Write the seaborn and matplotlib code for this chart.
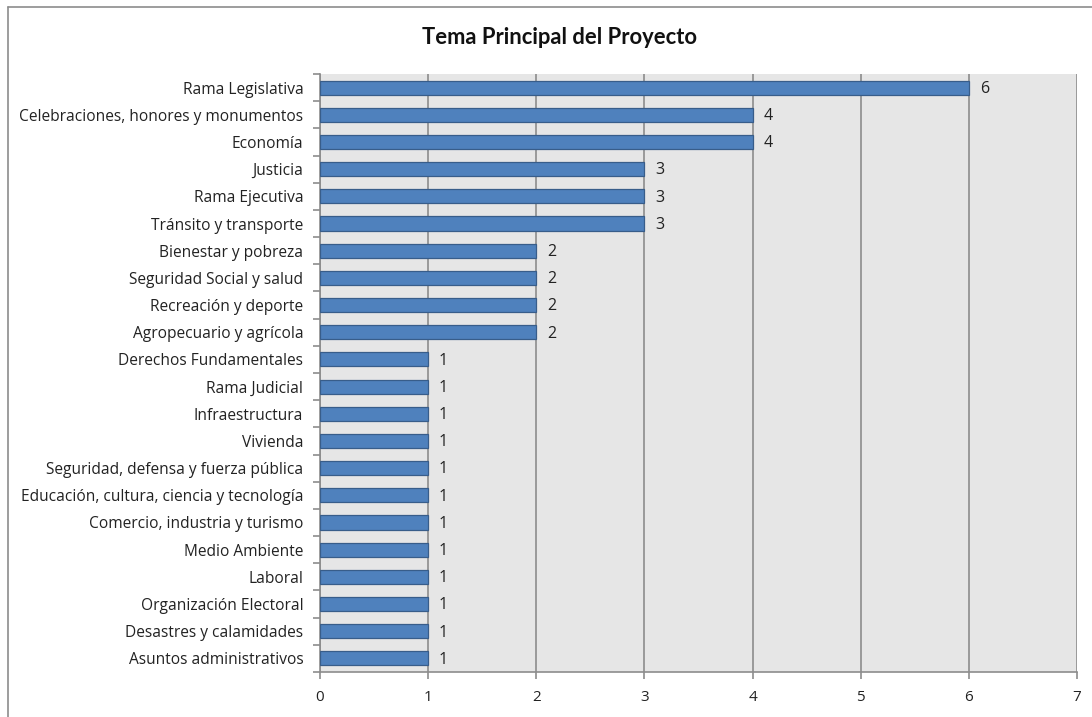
import matplotlib
matplotlib.use("Agg")
import matplotlib.pyplot as plt
import seaborn as sns
import pandas as pd
from matplotlib.lines import Line2D

categories = [
    "Rama Legislativa",
    "Celebraciones, honores y monumentos",
    "Economía",
    "Justicia",
    "Rama Ejecutiva",
    "Tránsito y transporte",
    "Bienestar y pobreza",
    "Seguridad Social y salud",
    "Recreación y deporte",
    "Agropecuario y agrícola",
    "Derechos Fundamentales",
    "Rama Judicial",
    "Infraestructura",
    "Vivienda",
    "Seguridad, defensa y fuerza pública",
    "Educación, cultura, ciencia y tecnología",
    "Comercio, industria y turismo",
    "Medio Ambiente",
    "Laboral",
    "Organización Electoral",
    "Desastres y calamidades",
    "Asuntos administrativos",
]
values = [6, 4, 4, 3, 3, 3, 2, 2, 2, 2, 1, 1, 1, 1, 1, 1, 1, 1, 1, 1, 1, 1]
x_ticks = [0, 1, 2, 3, 4, 5, 6, 7]
title = "Tema Principal del Proyecto"

df = pd.DataFrame({"tema": categories, "n": values})

sns.set_theme(style="white")
plt.rcParams["font.family"] = ["Open Sans", "DejaVu Sans"]

fig = plt.figure(figsize=(10.92, 7.17), dpi=100)
ax = fig.add_axes([320 / 1092, 1 - 672 / 717, (1077 - 320) / 1092, (672 - 74) / 717])
ax.set_facecolor("#E6E6E6")

sns.barplot(data=df, y="tema", x="n", orient="h", ax=ax, color="#4F81BD",
            saturation=1, width=0.52, edgecolor="#385D8A", linewidth=0.9, zorder=3)

ax.set_xlim(0, 7)
ax.set_ylim(len(categories) - 0.5, -0.5)
ax.set_xticks(x_ticks)
ax.set_xticklabels([str(t) for t in x_ticks], fontsize=11, color="#222222")
ax.xaxis.grid(True, color="#8C8C8C", linewidth=1.2, zorder=1)
ax.set_axisbelow(True)
ax.set_xlabel("")
ax.set_ylabel("")
ax.tick_params(axis="y", which="major", length=0, labelsize=11.2, labelcolor="#222222", pad=12)
ax.set_yticks([i - 0.5 for i in range(len(categories) + 1)], minor=True)
ax.tick_params(axis="y", which="minor", length=5, color="#8C8C8C", width=1.2, left=True)
ax.tick_params(axis="x", which="major", length=5, color="#8C8C8C", width=1.2, bottom=True, pad=8)

for s in ["top", "right"]:
    ax.spines[s].set_visible(False)
for s in ["left", "bottom"]:
    ax.spines[s].set_visible(True)
    ax.spines[s].set_color("#8C8C8C")
    ax.spines[s].set_linewidth(1.2)

for i, v in enumerate(values):
    ax.text(v + 0.1, i + 0.05, str(v), va="center", ha="left", fontsize=11.5,
            color="#222222", zorder=4)

fig.text(0.512, 1 - 38 / 717, title, ha="center", va="center", fontsize=15.8,
         fontweight="bold", color="#111111", family=["Lato", "DejaVu Sans"])

# outer chart frame (left and top edges visible)
fig.add_artist(Line2D([8 / 1092, 8 / 1092], [0, 1 - 7 / 717], transform=fig.transFigure,
                      color="#8C8C8C", linewidth=1.2))
fig.add_artist(Line2D([8 / 1092, 1], [1 - 7 / 717, 1 - 7 / 717], transform=fig.transFigure,
                      color="#8C8C8C", linewidth=1.2))

fig.savefig("out.png", dpi=100, facecolor="white")
